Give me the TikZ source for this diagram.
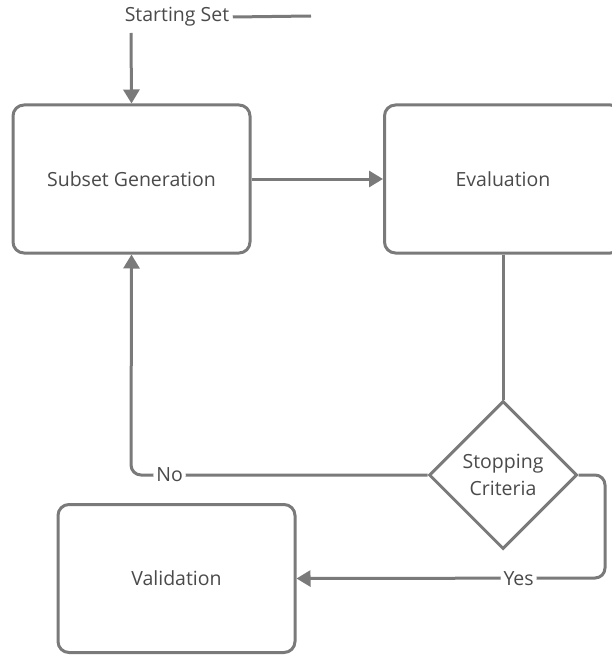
\documentclass[tikz,border=0pt]{standalone}
\usepackage{fontspec}
\setmainfont{Open Sans}
\usetikzlibrary{shapes.geometric,arrows.meta}
\definecolor{linegray}{HTML}{7A7A7A}
\definecolor{textgray}{HTML}{4A4A4A}
\tikzset{
  every node/.style={text=textgray, font=\fontsize{19.5}{27}\selectfont},
  procbox/.style={draw=linegray, line width=3pt, rounded corners=11pt, minimum width=237pt, minimum height=148pt, inner sep=0pt},
  decision/.style={diamond, draw=linegray, line width=3pt, minimum width=148pt, minimum height=148pt, inner sep=0pt, align=center},
  conn/.style={draw=linegray, line width=3pt},
  tip/.style={-{Triangle[length=14pt,width=16pt]}},
  lbl/.style={fill=white, inner sep=3pt}
}
\begin{document}
\begin{tikzpicture}[x=1pt,y=-1pt]
  \useasboundingbox (0,0) rectangle (611,655);
  \node (start) at (177,17) {Starting Set};
  \coordinate (startend) at (311,16);
  \node[procbox] (subset) at (131.5,179) {Subset Generation};
  \node[procbox] (eval) at (503,179) {Evaluation};
  \node[decision] (stop) at (503,475) {Stopping\\Criteria};
  \node[procbox] (valid) at (176.5,578.5) {Validation};

  \draw[conn] (start.east) -- (startend);
  \coordinate (instart) at (131,33);
  \draw[conn,tip] (instart) -- (subset.north);
  \draw[conn,tip] (subset.east) -- (eval.west);
  \draw[conn] (eval.south) -- (stop.north);
  \draw[conn,tip,rounded corners=10pt] (stop.west) -- (131,475)
     node[lbl,pos=0.87] {No} -- (subset.south);
  \draw[conn,tip,rounded corners=10pt] (stop.east) -- (605,475) -- (605,578)
     -- (valid.east) node[lbl,pos=0.28] {Yes};
\end{tikzpicture}
\end{document}
